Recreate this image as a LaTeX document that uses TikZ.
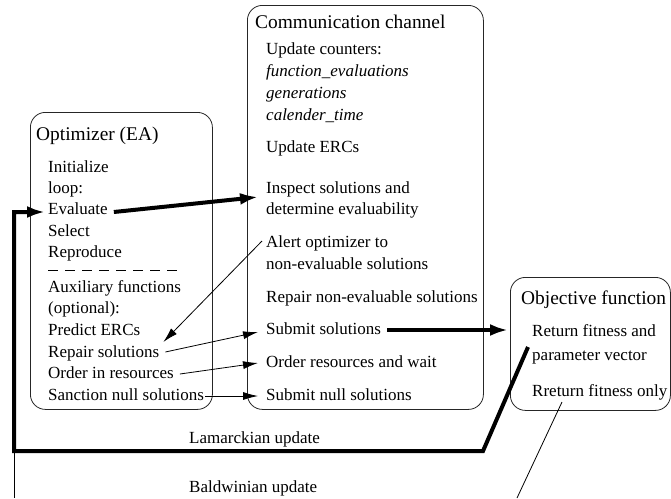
\documentclass[tikz,border=0pt]{standalone}
\usepackage{fontspec}
\setmainfont{Liberation Serif}
\usetikzlibrary{arrows.meta,calc}
\begin{document}
\begin{tikzpicture}[x=1pt,y=-1pt,
  txt/.style={anchor=base west, inner sep=0pt, font=\fontsize{17}{20}\selectfont},
  ttl/.style={anchor=base west, inner sep=0pt, font=\fontsize{19.4}{23}\selectfont},
  box/.style={draw=black!85, rounded corners=15pt, line width=0.8pt, anchor=north west, inner sep=0pt},
  thinline/.style={line width=0.8pt},
  thinarr/.style={line width=0.8pt, -{Latex[length=15pt,width=8pt]}},
  thickline/.style={line width=4pt},
  thickarr/.style={line width=4pt, -{Latex[length=18pt,width=12pt]}},
]
\useasboundingbox (0,0) rectangle (671,498);

% boxes
\node[box, minimum width=182pt, minimum height=297pt] (optbox) at (30,112) {};
\node[box, minimum width=236pt, minimum height=404pt] (combox) at (247,5) {};
\node[box, minimum width=160pt, minimum height=133pt] (objbox) at (510,277) {};

% Optimizer texts
\node[ttl] (optttl) at (36,140) {Optimizer (EA)};
\node[txt] (init) at (48,172) {Initialize};
\node[txt] (loop) at (48,193) {loop:};
\node[txt] (eval) at (48,214) {Evaluate};
\node[txt] (select) at (48,236) {Select};
\node[txt] (repro) at (48,257) {Reproduce};
\draw[line width=0.8pt, dash pattern=on 10pt off 7pt] (48,270) -- (180,270);
\node[txt] (aux) at (48,292) {Auxiliary functions};
\node[txt] (opt) at (48,313) {(optional):};
\node[txt] (pred) at (48,335) {Predict ERCs};
\node[txt] (repair) at (48,357) {Repair solutions};
\node[txt] (order) at (48,378) {Order in resources};
\node[txt] (sanction) at (48,400) {Sanction null solutions};

% Communication channel texts
\node[ttl] (comttl) at (255,28) {Communication channel};
\node[txt] (updc) at (266,54) {Update counters:};
\node[txt] (fe) at (266,76) {\itshape function\_evaluations};
\node[txt] (gen) at (266,98) {\itshape generations};
\node[txt] (cal) at (266,120) {\itshape calender\_time};
\node[txt] (upde) at (266,152) {Update ERCs};
\node[txt] (insp) at (266,193) {Inspect solutions and};
\node[txt] (det) at (266,214) {determine evaluability};
\node[txt] (alert) at (266,247) {Alert optimizer to};
\node[txt] (noneval) at (266,269) {non-evaluable solutions};
\node[txt] (repnon) at (266,302) {Repair non-evaluable solutions};
\node[txt] (submit) at (266,334) {Submit solutions};
\node[txt] (ordres) at (266,367) {Order resources and wait};
\node[txt] (subnull) at (266,400) {Submit null solutions};

% Objective function texts
\node[ttl] (objttl) at (521,304) {Objective function};
\node[txt] (retf) at (532,336) {Return fitness and};
\node[txt] (param) at (532,360) {parameter vector};
\node[txt] (rret) at (532,396) {Rreturn fitness only};

% update labels
\node[txt] (lam) at (189,443) {Lamarckian update};
\node[txt] (bal) at (189,492) {Baldwinian update};

% connectors
\draw[thickarr] ($(eval.base east)+(6,-2)$) -- ($(insp.base west)+(-8,4)$);
\draw[thinarr] ($(alert.base west)+(-4,-6)$) -- ($(repair.base east)+(4,-15)$);
\draw[thinarr] ($(repair.base east)+(6,-5)$) -- ($(submit.base west)+(-8,-2)$);
\draw[thinarr] ($(order.base east)+(6,-4)$) -- ($(ordres.base west)+(-8,-4)$);
\draw[thinarr] ($(sanction.base east)+(1,-4)$) -- ($(subnull.base west)+(-8,-4)$);
\draw[thickarr] ($(submit.base east)+(6,-4)$) -- ($(submit.base east -| objbox.west)+(-2,-4)$);

\coordinate (lamA) at (483,451);
\coordinate (lamB) at (14,451);
\coordinate (evin) at ($(eval.base west)+(-3,-2)$);
\draw[thickline, line join=miter] ($(param.base west)+(-4,-13)$) -- (lamA) -- (lamB) -- (lamB |- evin) -- ($(evin)+(-16,0)$);
\draw[thickarr] ($(evin)+(-18,0)$) -- (evin);

\coordinate (balA) at (517,498);
\coordinate (balB) at (14,498);
\draw[thinline] ($(rret.base west)+(30,6)$) -- (balA);
\draw[thinline] (lamB) -- (balB);
\end{tikzpicture}
\end{document}
